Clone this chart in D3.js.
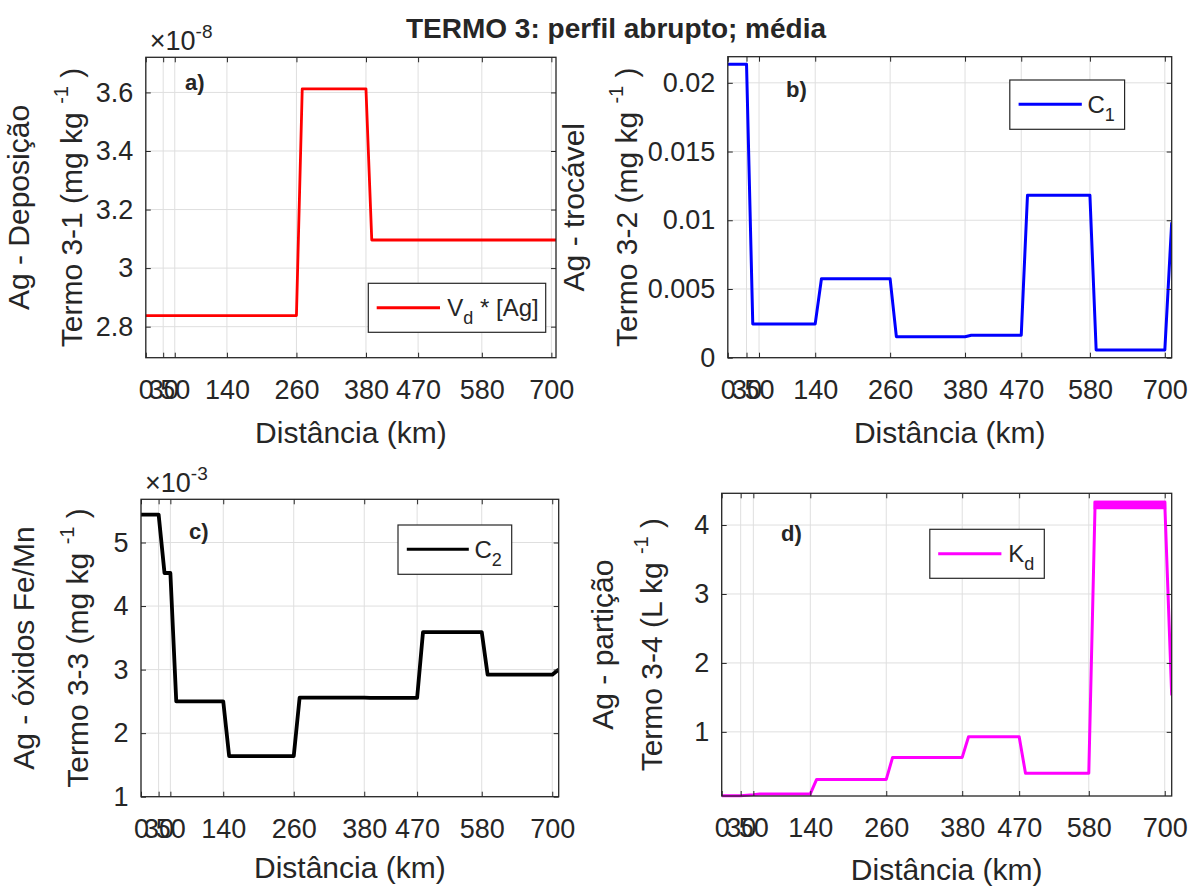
<!DOCTYPE html>
<html>
<head>
<meta charset="utf-8">
<script src="https://cdn.jsdelivr.net/npm/d3@7"></script>
<style>
  body { margin: 0; background: #fff; }
  svg { display: block; }
  text { font-family: "Liberation Sans", Arial, Helvetica, sans-serif; fill: #262626; }
</style>
</head>
<body>
<svg id="fig" width="1190" height="886"></svg>
<script>
// Distance ticks shared by the four panels (km)
const distTicks = [0, 30, 50, 140, 260, 380, 470, 580, 700];

// a) deposition term, values in units of 1e-8 mg/kg
const distA = [0, 260, 270, 380, 390, 708];
const termA = [2.838, 2.838, 3.612, 3.612, 3.096, 3.096];
const ticksA = [2.8, 3, 3.2, 3.4, 3.6];

// b) exchangeable fraction C1 (mg/kg)
const distB = [0, 30, 40, 140, 150, 260, 270, 380, 390, 470, 480, 580, 590, 700, 711];
const termB = [0.02135, 0.02135, 0.00246, 0.00246, 0.00574, 0.00574, 0.00153, 0.00153,
               0.00163, 0.00163, 0.01182, 0.01182, 0.00056, 0.00056, 0.00985];
const ticksB = [0, 0.005, 0.01, 0.015, 0.02];

// c) Fe/Mn oxides fraction C2, values in units of 1e-3 mg/kg
const distC = [0, 30, 40, 50, 60, 140, 150, 260, 270, 380, 390, 470, 480, 580, 590, 700, 711];
const termC = [5.44, 5.44, 4.52, 4.52, 2.50, 2.50, 1.64, 1.64, 2.56, 2.56, 2.555, 2.555,
               3.59, 3.59, 2.92, 2.92, 3.00];
const ticksC = [1, 2, 3, 4, 5];

// d) partition coefficient Kd (L/kg)
const distD = [0, 30, 50, 60, 140, 150, 260, 270, 380, 390, 470, 480, 580, 590, 700, 711];
const termD = [0.075, 0.075, 0.09, 0.10, 0.10, 0.31, 0.31, 0.63, 0.63, 0.93, 0.93,
               0.40, 0.40, 4.33, 4.33, 1.53];
// spread of the Kd plateau between 590 and 700 km
const bandDistD = [590, 700];
const bandLowD = [4.25, 4.25];
const bandHighD = [4.33, 4.33];
const ticksD = [1, 2, 3, 4];

const svg = d3.select("#fig");
const INK = "#262626";
const GRID = "#dfdfdf";
const fmt = d3.format("~g");

svg.append("text")
  .attr("x", 616).attr("y", 38)
  .attr("text-anchor", "middle")
  .attr("font-size", 28).attr("font-weight", "bold")
  .attr("fill", "#000")
  .text("TERMO 3: perfil abrupto; média");

const panels = [
  {
    id: "a", box: { left: 145.8, right: 556, top: 57.3, bottom: 357.7 },
    xMax: 708, yDom: [2.694, 3.72], yTicks: ticksA, dist: distA, vals: termA,
    color: "#ff0000", width: 2.8,
    tag: { x: 185, y: 90, t: "a)" },
    exp: "-8",
    yOuter: { x: 29, t: "Ag - Deposição" },
    yInner: { x: 81.5, t: "Termo 3-1 (mg kg " },
    xLabelY: 443,
    legend: { x0: 368.3, y0: 283.3, x1: 545.7, y1: 332.3, l0: 376.7, l1: 440, ly: 307.7,
              tx: 447.3, main: "V", sub: "d", rest: " * [Ag]" }
  },
  {
    id: "b", box: { left: 727.8, right: 1171.7, top: 56.7, bottom: 357.7 },
    xMax: 711, yDom: [0, 0.0219], yTicks: ticksB, dist: distB, vals: termB,
    color: "#0000ff", width: 3,
    tag: { x: 786, y: 97, t: "b)" },
    exp: null,
    yOuter: { x: 584, t: "Ag - trocável" },
    yInner: { x: 637, t: "Termo 3-2 (mg kg " },
    xLabelY: 443,
    legend: { x0: 1009.8, y0: 80, x1: 1124.6, y1: 129.3, l0: 1018.6, l1: 1081.8, ly: 104.3,
              tx: 1087.5, main: "C", sub: "1", rest: "" }
  },
  {
    id: "c", box: { left: 141, right: 558.7, top: 499.3, bottom: 796.7 },
    xMax: 711, yDom: [1, 5.68], yTicks: ticksC, dist: distC, vals: termC,
    color: "#000000", width: 3.8,
    tag: { x: 189, y: 539, t: "c)" },
    exp: "-3",
    yOuter: { x: 34, t: "Ag - óxidos Fe/Mn" },
    yInner: { x: 87.5, t: "Termo 3-3 (mg kg " },
    xLabelY: 878,
    legend: { x0: 398, y0: 525, x1: 511.7, y1: 574.3, l0: 406.8, l1: 468.8, ly: 549.3,
              tx: 474.5, main: "C", sub: "2", rest: "" }
  },
  {
    id: "d", box: { left: 721.7, right: 1171.7, top: 493.3, bottom: 796 },
    xMax: 711, yDom: [0.07, 4.46], yTicks: ticksD, dist: distD, vals: termD,
    color: "#ff00ff", width: 3,
    band: { dist: bandDistD, lo: bandLowD, hi: bandHighD },
    tag: { x: 781, y: 541, t: "d)" },
    exp: null,
    yOuter: { x: 612.5, t: "Ag - partição" },
    yInner: { x: 662, t: "Termo 3-4 (L kg " },
    xLabelY: 880,
    legend: { x0: 929.8, y0: 529.3, x1: 1044.3, y1: 578.3, l0: 938.2, l1: 1001.4, ly: 553.7,
              tx: 1008.3, main: "K", sub: "d", rest: "" }
  }
];

panels.forEach(p => {
  const b = p.box;
  const x = d3.scaleLinear().domain([0, p.xMax]).range([b.left, b.right]);
  const y = d3.scaleLinear().domain(p.yDom).range([b.bottom, b.top]);
  const g = svg.append("g").attr("class", "panel-" + p.id);

  // grid
  g.append("g").selectAll("line.vx").data(distTicks).join("line")
    .attr("x1", d => x(d)).attr("x2", d => x(d))
    .attr("y1", b.top).attr("y2", b.bottom)
    .attr("stroke", GRID).attr("stroke-width", 1);
  g.append("g").selectAll("line.hy").data(p.yTicks).join("line")
    .attr("x1", b.left).attr("x2", b.right)
    .attr("y1", d => y(d)).attr("y2", d => y(d))
    .attr("stroke", GRID).attr("stroke-width", 1);

  // data
  const clipId = "clip-" + p.id;
  svg.append("clipPath").attr("id", clipId).append("rect")
    .attr("x", b.left).attr("y", b.top - 2)
    .attr("width", b.right - b.left).attr("height", b.bottom - b.top + 4);
  const pts = p.dist.map((d, i) => [d, p.vals[i]]);
  const line = d3.line().x(d => x(d[0])).y(d => y(d[1]));
  if (p.band) {
    const bandPts = p.band.dist.map((d, i) => [d, p.band.lo[i], p.band.hi[i]]);
    g.append("path").datum(bandPts)
      .attr("clip-path", `url(#${clipId})`)
      .attr("d", d3.area().x(d => x(d[0])).y0(d => y(d[1])).y1(d => y(d[2])))
      .attr("fill", p.color).attr("stroke", p.color).attr("stroke-width", p.width);
  }
  g.append("path").datum(pts)
    .attr("clip-path", `url(#${clipId})`)
    .attr("d", line)
    .attr("fill", "none").attr("stroke", p.color)
    .attr("stroke-width", p.width).attr("stroke-linejoin", "round");

  // axes: ticks point inward on all four sides
  const ax = g.append("g").attr("transform", `translate(0,${b.bottom})`)
    .call(d3.axisBottom(x).tickValues(distTicks).tickFormat(d3.format("d"))
      .tickSize(-5).tickPadding(22));
  const axTop = g.append("g").attr("transform", `translate(0,${b.top})`)
    .call(d3.axisTop(x).tickValues(distTicks).tickFormat("").tickSize(-5));
  const ay = g.append("g").attr("transform", `translate(${b.left},0)`)
    .call(d3.axisLeft(y).tickValues(p.yTicks).tickFormat(fmt)
      .tickSize(-5).tickPadding(12.5));
  const ayR = g.append("g").attr("transform", `translate(${b.right},0)`)
    .call(d3.axisRight(y).tickValues(p.yTicks).tickFormat("").tickSize(-5));
  [ax, axTop, ay, ayR].forEach(a => {
    a.select(".domain").remove();
    a.attr("color", INK);
    a.selectAll(".tick line").attr("stroke", INK).attr("stroke-width", 1);
    a.selectAll(".tick text").attr("font-size", 27).attr("fill", INK)
      .attr("font-family", '"Liberation Sans", Arial, Helvetica, sans-serif');
  });

  g.append("rect")
    .attr("x", b.left).attr("y", b.top)
    .attr("width", b.right - b.left).attr("height", b.bottom - b.top)
    .attr("fill", "none").attr("stroke", INK).attr("stroke-width", 1.3);

  // exponent
  if (p.exp) {
    const e = g.append("text").attr("x", b.left + 4).attr("y", b.top - 7)
      .attr("font-size", 27);
    e.append("tspan").text("×10");
    e.append("tspan").attr("font-size", 19).attr("dy", -12).text(p.exp);
  }

  // panel tag
  g.append("text").attr("x", p.tag.x).attr("y", p.tag.y)
    .attr("font-size", 22).attr("font-weight", "bold").attr("fill", "#000")
    .text(p.tag.t);

  // axis titles
  const cy = (b.top + b.bottom) / 2;
  g.append("text").attr("transform", `translate(${p.yOuter.x},${cy}) rotate(-90)`)
    .attr("text-anchor", "middle").attr("font-size", 30).text(p.yOuter.t);
  const inner = g.append("text")
    .attr("transform", `translate(${p.yInner.x},${cy}) rotate(-90)`)
    .attr("text-anchor", "middle").attr("font-size", 30);
  inner.append("tspan").text(p.yInner.t);
  inner.append("tspan").attr("font-size", 20).attr("dy", -14).text("-1");
  inner.append("tspan").attr("dy", 14).text(" )");

  g.append("text").attr("x", (b.left + b.right) / 2).attr("y", p.xLabelY)
    .attr("text-anchor", "middle").attr("font-size", 30).text("Distância (km)");

  // legend
  const L = p.legend;
  g.append("rect").attr("x", L.x0).attr("y", L.y0)
    .attr("width", L.x1 - L.x0).attr("height", L.y1 - L.y0)
    .attr("fill", "#fff").attr("stroke", INK).attr("stroke-width", 1.2);
  g.append("line").attr("x1", L.l0).attr("x2", L.l1).attr("y1", L.ly).attr("y2", L.ly)
    .attr("stroke", p.color).attr("stroke-width", 3);
  const lt = g.append("text").attr("x", L.tx).attr("y", L.ly + 8.5).attr("font-size", 24);
  lt.append("tspan").text(L.main);
  lt.append("tspan").attr("font-size", 18).attr("dy", 8).text(L.sub);
  if (L.rest) lt.append("tspan").attr("font-size", 24).attr("dy", -8).text(L.rest);
});
</script>
</body>
</html>
